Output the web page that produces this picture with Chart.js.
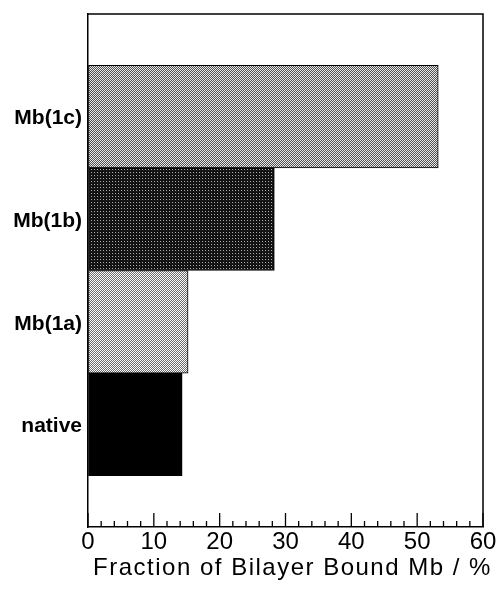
<!DOCTYPE html>
<html>
<head>
<meta charset="utf-8">
<script src="https://cdn.jsdelivr.net/npm/chart.js@4/dist/chart.umd.min.js"></script>
<style>
html,body{margin:0;padding:0;background:#fff;}
#wrap{width:496px;height:593px;}
</style>
</head>
<body>
<div id="wrap"><canvas id="c" width="496" height="593"></canvas></div>
<script>
const categories = ['Mb(1c)', 'Mb(1b)', 'Mb(1a)', 'native'];
const values = [53.2, 28.3, 15.2, 14.3];
const xTicks = [0, 10, 20, 30, 40, 50, 60];
const xTitle = 'Fraction of Bilayer Bound Mb / %';

function makePattern(size, cells) {
  const c = document.createElement('canvas');
  c.width = size; c.height = size;
  const g = c.getContext('2d');
  for (let y = 0; y < size; y++) for (let x = 0; x < size; x++) {
    g.fillStyle = cells[y][x];
    g.fillRect(x, y, 1, 1);
  }
  return g.createPattern(c, 'repeat');
}
const pat1c = makePattern(2, [['#e8e8e8', '#505050'], ['#505050', '#e8e8e8']]);
const pat1b = makePattern(3, [['#111', '#111', '#111'], ['#111', '#b0b0b0', '#111'], ['#111', '#111', '#222']]);
const pat1a = makePattern(2, [['#ffffff', '#6a6a6a'], ['#6a6a6a', '#ffffff']]);
const fills = [pat1c, pat1b, pat1a, '#000'];

const labels = [''].concat(categories, ['']);
const data = [null].concat(values, [null]);
const bg = ['#fff'].concat(fills, ['#fff']);

const framePlugin = {
  id: 'frame',
  afterDraw(chart) {
    const ctx = chart.ctx, a = chart.chartArea, xs = chart.scales.x;
    ctx.save();
    ctx.strokeStyle = '#000';
    ctx.lineWidth = 1.5;
    ctx.beginPath();
    ctx.moveTo(a.left, a.top); ctx.lineTo(a.right, a.top); ctx.lineTo(a.right, a.bottom);
    ctx.stroke();
    ctx.lineWidth = 1.3;
    for (let v = 0; v <= 60; v += 2) {
      const px = xs.getPixelForValue(v);
      const len = (v % 10 === 0) ? 14 : 6;
      ctx.beginPath();
      ctx.moveTo(px, a.bottom); ctx.lineTo(px, a.bottom - len);
      ctx.stroke();
    }
    ctx.fillStyle = '#000';
    ctx.font = '24px "Liberation Sans", Arial, sans-serif';
    ctx.letterSpacing = '1.5px';
    ctx.textAlign = 'center';
    ctx.textBaseline = 'alphabetic';
    ctx.fillText(xTitle, (a.left + a.right) / 2 + 7, a.bottom + 48);
    ctx.restore();
  }
};

new Chart(document.getElementById('c'), {
  type: 'bar',
  data: {
    labels: labels,
    datasets: [{
      data: data,
      backgroundColor: bg,
      borderColor: '#000',
      borderWidth: 1,
      borderSkipped: false,
      barPercentage: 1,
      categoryPercentage: 1
    }]
  },
  options: {
    indexAxis: 'y',
    responsive: false,
    animation: false,
    devicePixelRatio: 1,
    layout: { padding: { top: 14, right: 13, left: 0, bottom: 0 } },
    plugins: { legend: { display: false }, tooltip: { enabled: false } },
    scales: {
      x: {
        type: 'linear',
        min: 0, max: 60,
        afterBuildTicks(s) { s.ticks = xTicks.map(v => ({ value: v })); },
        afterFit(s) { s.height = 66; s.paddingLeft = 0; s.paddingRight = 0; },
        grid: { display: true, drawOnChartArea: false, drawTicks: false, color: 'rgba(0,0,0,0)' },
        border: { display: true, color: '#000', width: 1.5 },
        ticks: {
          color: '#000',
          padding: 1,
          maxRotation: 0,
          autoSkip: false,
          font: { family: '"Liberation Sans", Arial, sans-serif', size: 24 }
        },
        title: { display: false }
      },
      y: {
        type: 'category',
        offset: false,
        afterFit(s) { s.width = 88; s.paddingTop = 0; s.paddingBottom = 0; },
        grid: { display: false, drawTicks: false },
        border: { display: true, color: '#000', width: 1.5 },
        ticks: {
          color: '#000',
          padding: 6,
          labelOffset: 2,
          autoSkip: false,
          font: { family: '"Liberation Sans", Arial, sans-serif', size: 21, weight: 'bold' }
        }
      }
    }
  },
  plugins: [framePlugin]
});
</script>
</body>
</html>
